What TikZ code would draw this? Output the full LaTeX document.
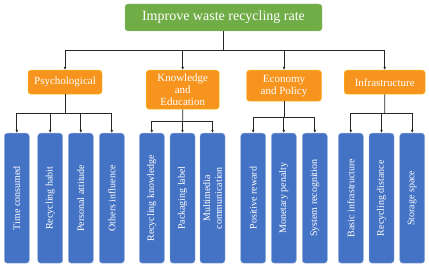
\documentclass[tikz,border=0pt]{standalone}
\usepackage{fontspec}
\setmainfont{Liberation Serif}
\usetikzlibrary{arrows.meta, positioning, calc}
\definecolor{topgreen}{HTML}{70AD47}
\definecolor{catorange}{HTML}{F7941D}
\definecolor{leafblue}{HTML}{4472C4}

\begin{document}
\begin{tikzpicture}[
    x=1pt, y=-1pt,
    goal/.style={draw=topgreen!70!white, fill=topgreen, rounded corners=3pt, minimum width=197pt, minimum height=27pt, inner sep=0, text=white, font=\fontsize{14}{16}\selectfont},
    cat/.style={draw=catorange!60!yellow, fill=catorange, rounded corners=3pt, inner sep=0, text=white, font=\fontsize{11}{12}\selectfont, align=center, anchor=north},
    leaf/.style={draw=leafblue!55!white, fill=leafblue, rounded corners=3pt, minimum width=130pt, minimum height=25pt, inner sep=0, text=white, font=\fontsize{10}{11.8}\selectfont, align=center, rotate=90, anchor=east},
    link/.style={draw=black!85, line width=0.8pt},
    >={Latex[length=3pt,width=2.6pt]}
]
\useasboundingbox (0,0) rectangle (429,267);
% goal and the four factor groups
\node[goal] (goal) at (223.5,17.5) {Improve waste recycling rate};
\node[cat, minimum width=74pt, minimum height=24pt] (psy) at (65,70) {Psychological};
\node[cat, minimum width=73pt, minimum height=39pt] (kno) at (182.7,70) {Knowledge\\and\\Education};
\node[cat, minimum width=75pt, minimum height=31pt] (eco) at (284,70) {Economy\\and Policy};
\node[cat, minimum width=81pt, minimum height=24pt] (inf) at (384.7,70) {Infrastructure};
% factors
\foreach \n/\x/\t in {psy1/16.8/Time consumed, psy2/50.2/Recycling habit, psy3/80.8/Personal attitude, psy4/111.8/Others influence,
    kno1/151.8/Recycling knowledge, kno2/182.5/Packaging label, kno3/212.5/{Multimedia\\communication},
    eco1/253.2/Positive reward, eco2/283.8/Monetary penalty, eco3/314.8/System recognition,
    inf1/350.8/Basic infrastructure, inf2/381.5/Recycling distance, inf3/412.2/Storage space} {
  \node[leaf] (\n) at (\x,133) {\t};
}
% connectors
\coordinate (bus) at (223.5,50.7);
\draw[link] (goal) -- (bus);
\foreach \c in {psy,kno,eco,inf}
  \draw[link,->] (bus) -| (\c.north);
\foreach \c/\m in {psy/4, kno/3, eco/3, inf/3} {
  \coordinate (\c b) at ($(\c.south)!.5!(\c.south |- \c1.east)$);
  \draw[link] (\c.south) -- (\c b);
  \foreach \i in {1,...,\m}
    \draw[link,->] (\c b) -| (\c\i.east);
}
\end{tikzpicture}
\end{document}
